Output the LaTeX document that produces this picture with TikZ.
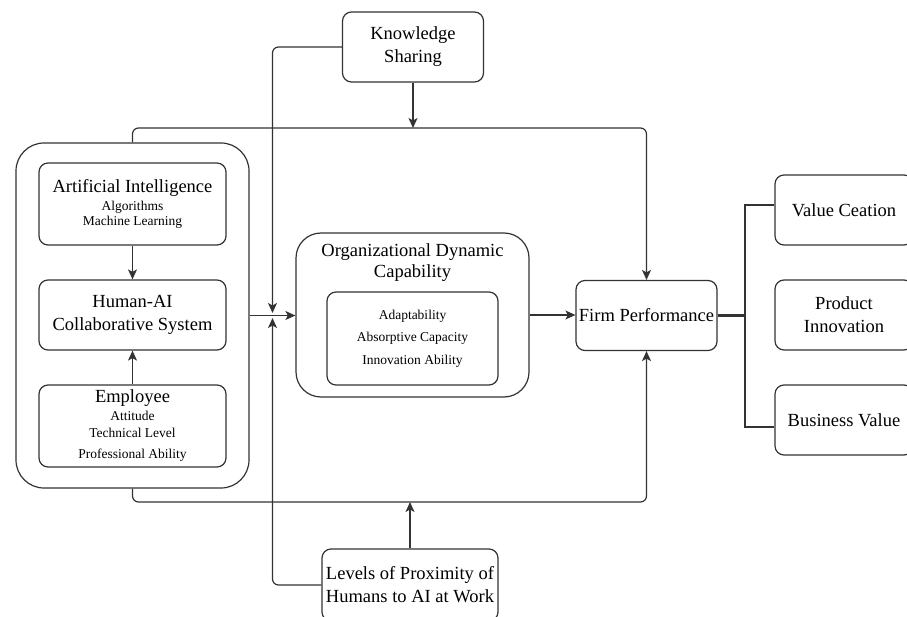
\documentclass[tikz,border=0pt]{standalone}
\usepackage{fontspec}
\setmainfont{Liberation Serif}
\newfontfamily\timesf{Liberation Serif}
\usetikzlibrary{arrows.meta,positioning}
\definecolor{linegray}{HTML}{333333}
\newcommand\mainf{\timesf\fontsize{18.5}{23}\selectfont}
\newcommand\subf{\timesf\fontsize{13.5}{15.5}\selectfont}

\begin{document}
\begin{tikzpicture}[
x=1pt,y=-1pt,
every node/.style={align=center,inner sep=0pt},
box/.style={draw=linegray,line width=1.2pt,rounded corners=9pt,font=\mainf},
bigbox/.style={draw=linegray,line width=1.2pt,rounded corners=28pt},
arr/.style={-{Stealth[length=10pt,width=9pt,inset=2.5pt]},line width=1.2pt,draw=linegray},
tree/.style={line width=2.8pt,draw=linegray}
]
\useasboundingbox (0,0) rectangle (907,617);
\clip (0,0) rectangle (907,617);
% left group
\node[bigbox,minimum width=233pt,minimum height=345pt] (grp) at (132.5,315.5) {};
\node[box,font=\subf,minimum width=187pt,minimum height=82pt] (ai) at (132.5,204) {{\mainf Artificial Intelligence}\\[2pt]Algorithms\\Machine Learning};
\node[box,minimum width=187pt,minimum height=70pt] (hai) at (132.5,315) {Human-AI\\Collaborative System};
\node[box,font=\subf,minimum width=187pt,minimum height=82pt] (emp) at (132.5,426) {{\mainf Employee}\\[2.5pt]Attitude\\[1.5pt]Technical Level\\[5.5pt]Professional Ability};
% moderators
\node[box,minimum width=141pt,minimum height=70pt] (ks) at (413,47) {Knowledge\\Sharing};
\node[box,minimum width=176pt,minimum height=72pt] (lp) at (410,585) {Levels of Proximity of\\Humans to AI at Work};
% mediator
\node[bigbox,rounded corners=25pt,minimum width=233pt,minimum height=164pt] (odc) at (412.5,315) {};
\node[font=\timesf\fontsize{18.5}{21.5}\selectfont] (odct) at (412.5,262.5) {Organizational Dynamic\\Capability};
\node[box,font=\subf,minimum width=171pt,minimum height=93pt] (odci) at (412.5,338.5) {Adaptability\\[7pt]Absorptive Capacity\\[7pt]Innovation Ability};
% outcome
\node[box,minimum width=141pt,minimum height=70pt] (fp) at (646.5,315.5) {Firm Performance};
\node[box,minimum width=138pt,minimum height=70pt] (vc) at (844,210) {Value Ceation};
\node[box,minimum width=138pt,minimum height=70pt] (pi) at (844,315) {Product\\Innovation};
\node[box,minimum width=138pt,minimum height=70pt] (bv) at (844,420) {Business Value};

\coordinate (jt) at (272.5,313);
\coordinate (jb) at (272.5,318);
\coordinate (ktop) at (413,128);
\coordinate (kbot) at (410,502);
\coordinate (br) at (745,315.5);

\draw[arr] (ai) -- (hai);
\draw[arr] (emp) -- (hai);
\draw[arr] (grp.east) -- (grp.east -| odc.west);
\draw[arr] (odc.east) -- (odc.east -| fp.west);
\draw[arr,rounded corners=6pt] (ks.west) -| (jt);
\draw[arr,rounded corners=6pt] (lp.west) -| (jb);
\draw[arr] (ks.south) -- (ktop);
\draw[arr] (lp.north) -- (kbot);
\draw[arr,rounded corners=6pt] (grp.north) |- (ktop) -| (fp.north);
\draw[arr,rounded corners=6pt] (grp.south) |- (kbot) -| (fp.south);
\draw[tree] (fp.east) -- (br);
\draw[tree] ([yshift=5pt]vc.west) -| (br) |- ([yshift=-7pt]bv.west);
\end{tikzpicture}
\end{document}
